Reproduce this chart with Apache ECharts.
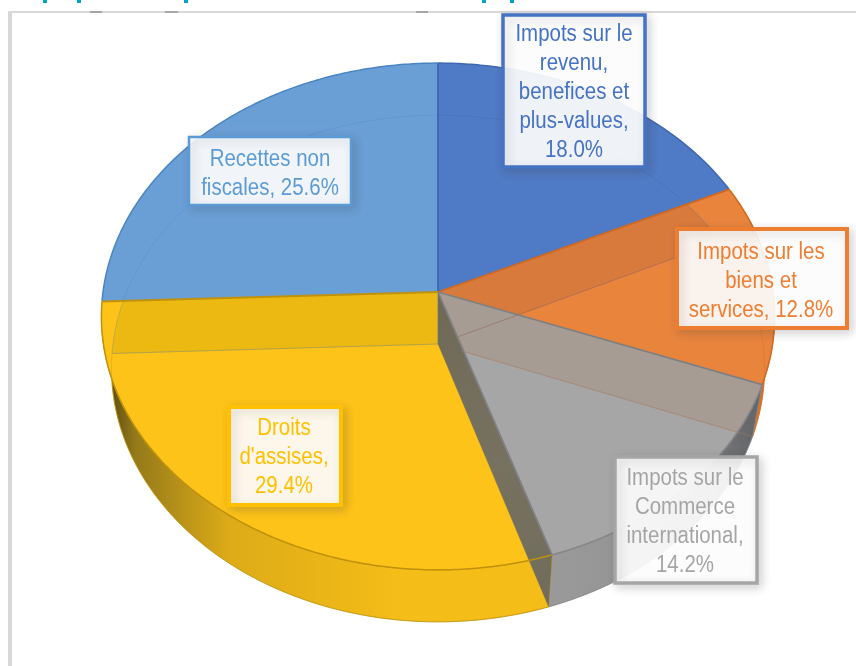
<!DOCTYPE html>
<html>
<head>
<meta charset="utf-8">
<script src="https://cdn.jsdelivr.net/npm/echarts@6/dist/echarts.min.js"></script>
<style>html,body{margin:0;padding:0;background:#fff}#c{width:856px;height:666px}</style>
</head>
<body>
<div id="c"></div>
<script>
// ---- data ----
const categories = ["Impots sur le\nrevenu,\nbenefices et\nplus-values,", "Impots sur les\nbiens et\nservices,", "Impots sur le\nCommerce\ninternational,", "Droits\nd'assises,", "Recettes non\nfiscales,"];
const values = [18.0, 12.8, 14.2, 29.4, 25.6];
const labelJoin = ["\n", " ", "\n", "\n", " "];

// ---- styles ----
const colors = ["#4f7ac5", "#e9843d", "#a6a6a6", "#fec318", "#6a9fd6"];
const bandColors = ["#4f7ac5", "#d87a3c", "#a69c94", "#ecb913", "#6a9fd6"];
const edges = ["#3f68ae", "#d0681f", "#85868a", "#c0920c", "#4a86c2"];
const radialEdges = ["#3f68ae", "#d0681f", "#7f8084", "#7f8084", "#c0920c"];
const textColors = ["#4472c4", "#ed7d31", "#a5a5a5", "#ffc000", "#5b9bd5"];
const boxes = [
  {x: 503, y: 15, w: 142, h: 152, lw: 3.5, cx: 574, ty: 33.5},
  {x: 677, y: 229, w: 170, h: 99, lw: 4, cx: 761, ty: 252},
  {x: 615, y: 457, w: 142, h: 126, lw: 3.5, cx: 685, ty: 478},
  {x: 229, y: 407, w: 112, h: 98, lw: 4, cx: 284, ty: 428},
  {x: 189, y: 137, w: 162, h: 68, lw: 2.5, cx: 270, ty: 159}
];
const wallFills = [
  [[0, "#e9843d"], [1, "#e9843d"]],
  [[0, "#e9843d"], [1, "#d8701f"]],
  [[0, "#9a9a9a"], [0.55, "#929292"], [1, "#66676a"]],
  [[0, "#4f4310"], [0.1, "#94791a"], [0.42, "#dcab17"], [1, "#f5bd18"]],
  [[0, "#4a86c2"], [1, "#4a86c2"]]
];
const wallSpan = [[550, 745], [700, 770], [550, 750], [105, 400], [100, 200]];

// ---- projection of the tilted disc ----
const CX = 438, A = 251, P = 0.0966;
const TOP = {b: 335, cy: 292}, LOW = {b: 325, cy: 344};
const total = values.reduce((s, v) => s + v, 0);
const startAt = values.map((_, i) => values.slice(0, i).reduce((s, v) => s + v, 0));
function pt(a, d) {
  const w = 1 + P * Math.cos(a);
  return [CX + d.b * Math.sin(a) / w, d.cy - A * Math.cos(a) / w];
}
function angles(i) {
  return [startAt[i] / total * 2 * Math.PI, (startAt[i] + values[i]) / total * 2 * Math.PI];
}
function arc(a0, a1, d) {
  const n = Math.max(2, Math.ceil((a1 - a0) / 0.01)), out = [];
  for (let k = 0; k <= n; k++) out.push(pt(a0 + (a1 - a0) * k / n, d));
  return out;
}
function wedge(i, d) {
  const [a0, a1] = angles(i);
  return [[CX, d.cy]].concat(arc(a0, a1, d));
}
// the polygon `subject` cut by the convex clockwise-on-screen polygon `clip`
function cut(subject, clip) {
  let out = subject;
  for (let e = 0; e < clip.length && out.length; e++) {
    const a = clip[e], b = clip[(e + 1) % clip.length];
    const side = p => (b[0] - a[0]) * (p[1] - a[1]) - (b[1] - a[1]) * (p[0] - a[0]);
    const next = [];
    for (let k = 0; k < out.length; k++) {
      const p = out[k], q = out[(k + 1) % out.length];
      const sp = side(p), sq = side(q);
      if (sp >= 0) next.push(p);
      if ((sp >= 0) !== (sq >= 0)) {
        const t = sp / (sp - sq);
        next.push([p[0] + (q[0] - p[0]) * t, p[1] + (q[1] - p[1]) * t]);
      }
    }
    out = next;
  }
  return out;
}

// ---- layers ----
const layerFns = [
  // outer wall (front half), the upper disc hides whatever lies inside it
  i => {
    const [a0, a1] = angles(i);
    const s = Math.max(a0, 1.14), e = Math.min(a1, 4.67);
    if (e <= s) return null;
    const pts = arc(s, e, TOP).concat(arc(s, e, LOW).reverse());
    const fill = new echarts.graphic.LinearGradient(wallSpan[i][0], 0, wallSpan[i][1], 0,
      wallFills[i].map(st => ({offset: st[0], color: st[1]})), true);
    return {type: 'polygon', shape: {points: pts}, style: {fill: fill, stroke: edges[i], lineWidth: 0.8}};
  },
  // upper disc
  i => ({type: 'polygon', shape: {points: wedge(i, TOP)}, style: {fill: colors[i]}}),
  // upper slice darkened where another slice of the lower disc shows through it
  i => ({type: 'group', children: values.map((_, j) => {
    if (j === i) return null;
    const pts = cut(wedge(i, TOP), wedge(j, LOW));
    return pts.length > 2 ? {type: 'polygon', shape: {points: pts}, style: {fill: bandColors[i]}} : null;
  }).filter(Boolean)}),
  // faint outline of the lower disc
  i => ({type: 'polygon', shape: {points: wedge(i, LOW)}, style: {fill: 'none', stroke: edges[i], lineWidth: 1, opacity: 0.32}}),
  // cut face between the yellow and grey slices
  i => {
    if (i !== 2) return null;
    const a = angles(i)[1], t = pt(a, TOP), l = pt(a, LOW);
    const fill = new echarts.graphic.LinearGradient(CX, TOP.cy, l[0], l[1], [
      {offset: 0, color: '#6f6a58'}, {offset: 0.55, color: '#77725f'}, {offset: 1, color: '#706c5c'}], true);
    return {type: 'polygon', shape: {points: [[CX, TOP.cy], t, l, [CX, LOW.cy]]}, style: {fill: fill}};
  },
  // rim and slice edges of the upper disc
  i => {
    const [a0, a1] = angles(i), st = pt(a0, TOP);
    return {type: 'group', children: [
      {type: 'polyline', shape: {points: arc(a0, a1, TOP)}, style: {fill: 'none', stroke: edges[i], lineWidth: 1.5}},
      {type: 'line', shape: {x1: CX, y1: TOP.cy, x2: st[0], y2: st[1]}, style: {stroke: radialEdges[i], lineWidth: 1.8}}
    ]};
  },
  // labels
  i => {
    const b = boxes[i];
    return {type: 'group', children: [
      {type: 'rect', shape: {x: b.x, y: b.y, width: b.w, height: b.h},
        style: {fill: 'rgba(255,255,255,0.91)', stroke: textColors[i], lineWidth: b.lw,
          shadowBlur: 10, shadowOffsetX: 3, shadowOffsetY: 3, shadowColor: 'rgba(60,60,60,0.22)'}},
      {type: 'text', x: b.cx, y: b.ty - 13.5, scaleX: 0.89, style: {
        text: categories[i] + labelJoin[i] + values[i].toFixed(1) + '%',
        x: 0, y: 0, align: 'center', verticalAlign: 'top',
        fontFamily: '"Liberation Sans", Arial, sans-serif', fontSize: 23, lineHeight: 29, fill: textColors[i]}}
    ]};
  }
];

const chart = echarts.init(document.getElementById('c'), null, {renderer: 'canvas'});
const frame = '#d9d9d9', mark = '#a6a6a6', teal = '#00a3c4';
const frameBits = [
  [8, 11, 848, 2, frame], [8, 11, 4, 655, frame],
  [90, 11, 12, 2, mark], [165, 11, 13, 2, mark], [416, 11, 12, 2, mark],
  [43, 0, 4, 3, teal], [77, 0, 4, 3, teal], [184, 0, 4, 3, teal], [482, 0, 4, 3, teal], [510, 0, 4, 3, teal]
];
chart.setOption({
  animation: false,
  backgroundColor: '#ffffff',
  graphic: frameBits.map(r => ({type: 'rect', silent: true, z: 0,
    shape: {x: r[0], y: r[1], width: r[2], height: r[3]}, style: {fill: r[4]}})),
  series: layerFns.map((fn, k) => ({
    type: 'custom',
    coordinateSystem: 'none',
    silent: true,
    z: 2 + k,
    data: values.map((v, i) => [v, i]),
    renderItem: (params) => fn(params.dataIndex) || {type: 'group', children: []}
  }))
});
</script>
</body>
</html>
